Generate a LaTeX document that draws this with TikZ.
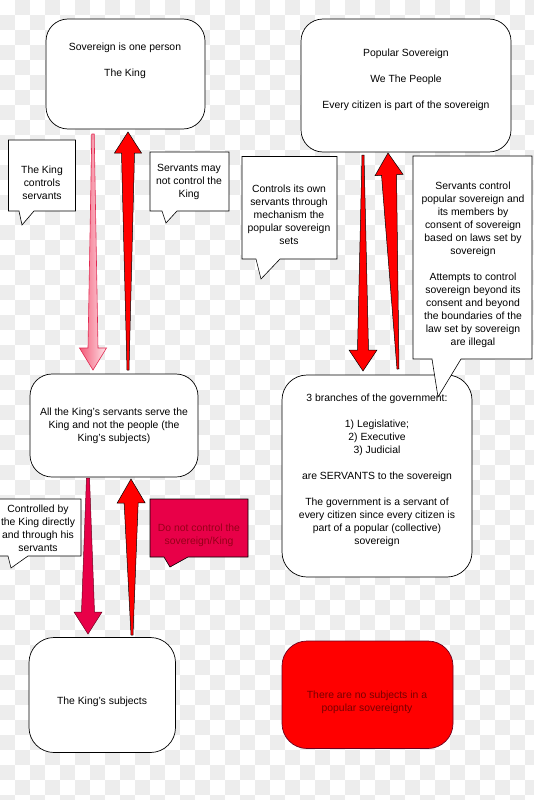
\documentclass[tikz,border=0pt]{standalone}
\usepackage{fontspec}
\setmainfont{Liberation Sans}
\usetikzlibrary{calc}
\definecolor{chk}{RGB}{237,237,237}
\definecolor{crim}{RGB}{232,0,72}
\definecolor{crimdark}{RGB}{110,0,30}
\definecolor{crimtext}{RGB}{150,0,25}
\definecolor{redtext}{RGB}{120,0,0}
\definecolor{pinkline}{RGB}{225,40,80}
\definecolor{pinkdeep}{RGB}{242,90,120}
\definecolor{pinkpale}{RGB}{255,228,233}
\newcommand\taperarrow[7]{%
  \coordinate (hb) at ($(#3)!#7!(#2)$);
  \path[#1] ($(#2)!#4!90:(#3)$) -- ($(hb)!#5!90:(#3)$) -- ($(hb)!#6!90:(#3)$) -- (#3)
    -- ($(hb)!#6!-90:(#3)$) -- ($(hb)!#5!-90:(#3)$) -- ($(#2)!#4!-90:(#3)$) -- cycle;}
\begin{document}
\begin{tikzpicture}[x=1pt,y=-1pt,
  rbox/.style={draw=black,line width=0.7pt,fill=white,rounded corners=22pt,inner sep=0pt},
  callout/.style={draw=black,line width=0.6pt,fill=white,line join=miter},
  txt/.style={font=\fontsize{10.4}{13}\selectfont,align=center,inner sep=0pt},
  redarrow/.style={draw=black,line width=0.5pt,fill=red,line join=miter},
  pinkarrow/.style={draw=pinkline,line width=0.6pt,left color=pinkdeep,right color=pinkpale,line join=miter},
  crimarrow/.style={draw=crimdark,line width=0.5pt,fill=crim,line join=miter}]
\useasboundingbox (0,0) rectangle (533,800);
% checkerboard background
\fill[white] (0,0) rectangle (533,800);
\foreach \i in {0,...,35}{\foreach \j in {0,...,53}{%
  \pgfmathtruncatemacro\k{mod(\i+\j,2)}%
  \ifnum\k=1 \fill[chk] (\i*15,\j*15) rectangle ++(15,15);\fi}}
% boxes
\node[rbox,minimum width=159pt,minimum height=110pt] (king) at (125.5,74) {};
\node[txt] (kingt) at (125,61.2) {Sovereign is one person\\[13pt]The King};
\node[rbox,minimum width=210pt,minimum height=133pt] (people) at (406,85.5) {};
\node[txt] (peoplet) at (406,79.5) {Popular Sovereign\\[13pt]We The People\\[13pt]Every citizen is part of the sovereign};
\node[rbox,minimum width=168pt,minimum height=103pt] (serv) at (114,425.5) {};
\node[txt] (servt) at (114,426.3) {All the King’s servants serve the\\King and not the people (the\\King’s subjects)};
\node[rbox,minimum width=190pt,minimum height=202pt,rounded corners=25pt] (gov) at (377,476) {};
\node[txt] (govt) at (377,470) {3 branches of the government:\\[13pt]1) Legislative;\\2) Executive\\3) Judicial\\[13pt]are SERVANTS to the sovereign\\[13pt]The government is a servant of\\every citizen since every citizen is\\part of a popular (collective)\\sovereign};
\node[rbox,minimum width=146.5pt,minimum height=115pt,rounded corners=25pt] (subj) at (102.25,695) {};
\node[txt] (subjt) at (102,702) {The King’s subjects};
\node[rbox,fill=red,draw=crimdark,minimum width=171pt,minimum height=107.5pt,rounded corners=25pt] (nosubj) at (367.5,694.75) {};
\node[txt,text=redtext] (nosubjt) at (367,702.2) {There are no subjects in a\\popular sovereignty};
% callouts
\draw[callout] (8.5,140) -- (75.5,140) -- (75.5,211) -- (34,211) -- (22,225) -- (19,211) -- (8.5,211) -- cycle;
\node[txt] (c1) at (42,182.5) {The King\\controls\\servants};
\draw[callout] (150,152) -- (229,152) -- (229,211) -- (177,211) -- (166,223) -- (162,211) -- (150,211) -- cycle;
\node[txt] (c2) at (189,182) {Servants may\\not control the\\King};
\draw[callout] (242,156.5) -- (337,156.5) -- (337,259) -- (280,259) -- (261,279) -- (256,259) -- (242,259) -- cycle;
\node[txt] (c3) at (289,215) {Controls its own\\servants through\\mechanism the\\popular sovereign\\sets};
\draw[callout] (-5,499) -- (81,499) -- (81,556) -- (28,556) -- (11,568) -- (8,556) -- (-5,556) -- cycle;
\node[txt] (c5) at (38,528.5) {Controlled by\\the King directly\\and through his\\servants};
\draw[callout,fill=crim] (150,499) -- (248,499) -- (248,557) -- (188,557) -- (170,567) -- (164,557) -- (150,557) -- cycle;
\node[txt,text=crimtext] (c6) at (199,535) {Do not control the\\sovereign/King};
% arrows
\coordinate (a1s) at (93,134);  \coordinate (a1e) at (93,370);
\coordinate (a2s) at (128,370); \coordinate (a2e) at (128,132);
\coordinate (b1s) at (363,155); \coordinate (b1e) at (363,371);
\coordinate (b2s) at (398,369); \coordinate (b2e) at (388,153);
\coordinate (d1s) at (88,478);  \coordinate (d1e) at (88,634);
\coordinate (d2s) at (132,635); \coordinate (d2e) at (131,479);
\taperarrow{pinkarrow}{a1s}{a1e}{1.2pt}{5pt}{13.5pt}{22pt}
\taperarrow{redarrow}{a2s}{a2e}{1pt}{6.5pt}{13.5pt}{21pt}
\taperarrow{redarrow}{b1s}{b1e}{1pt}{5.5pt}{14pt}{21pt}
\taperarrow{redarrow}{b2s}{b2e}{1pt}{7.5pt}{14pt}{22pt}
\taperarrow{crimarrow}{d1s}{d1e}{1.5pt}{6.5pt}{14pt}{22pt}
\taperarrow{redarrow}{d2s}{d2e}{1pt}{7pt}{14pt}{24pt}
% right callout drawn last (its tail overlaps the government box)
\draw[callout] (413,156) -- (532,156) -- (532,359) -- (461,359) -- (438,397) -- (432,359) -- (413,359) -- cycle;
\node[txt] (c4) at (473,265) {Servants control\\popular sovereign and\\its members by\\consent of sovereign\\based on laws set by\\sovereign\\[13pt]Attempts to control\\sovereign beyond its\\consent and beyond\\the boundaries of the\\law set by sovereign\\are illegal};
\end{tikzpicture}
\end{document}
